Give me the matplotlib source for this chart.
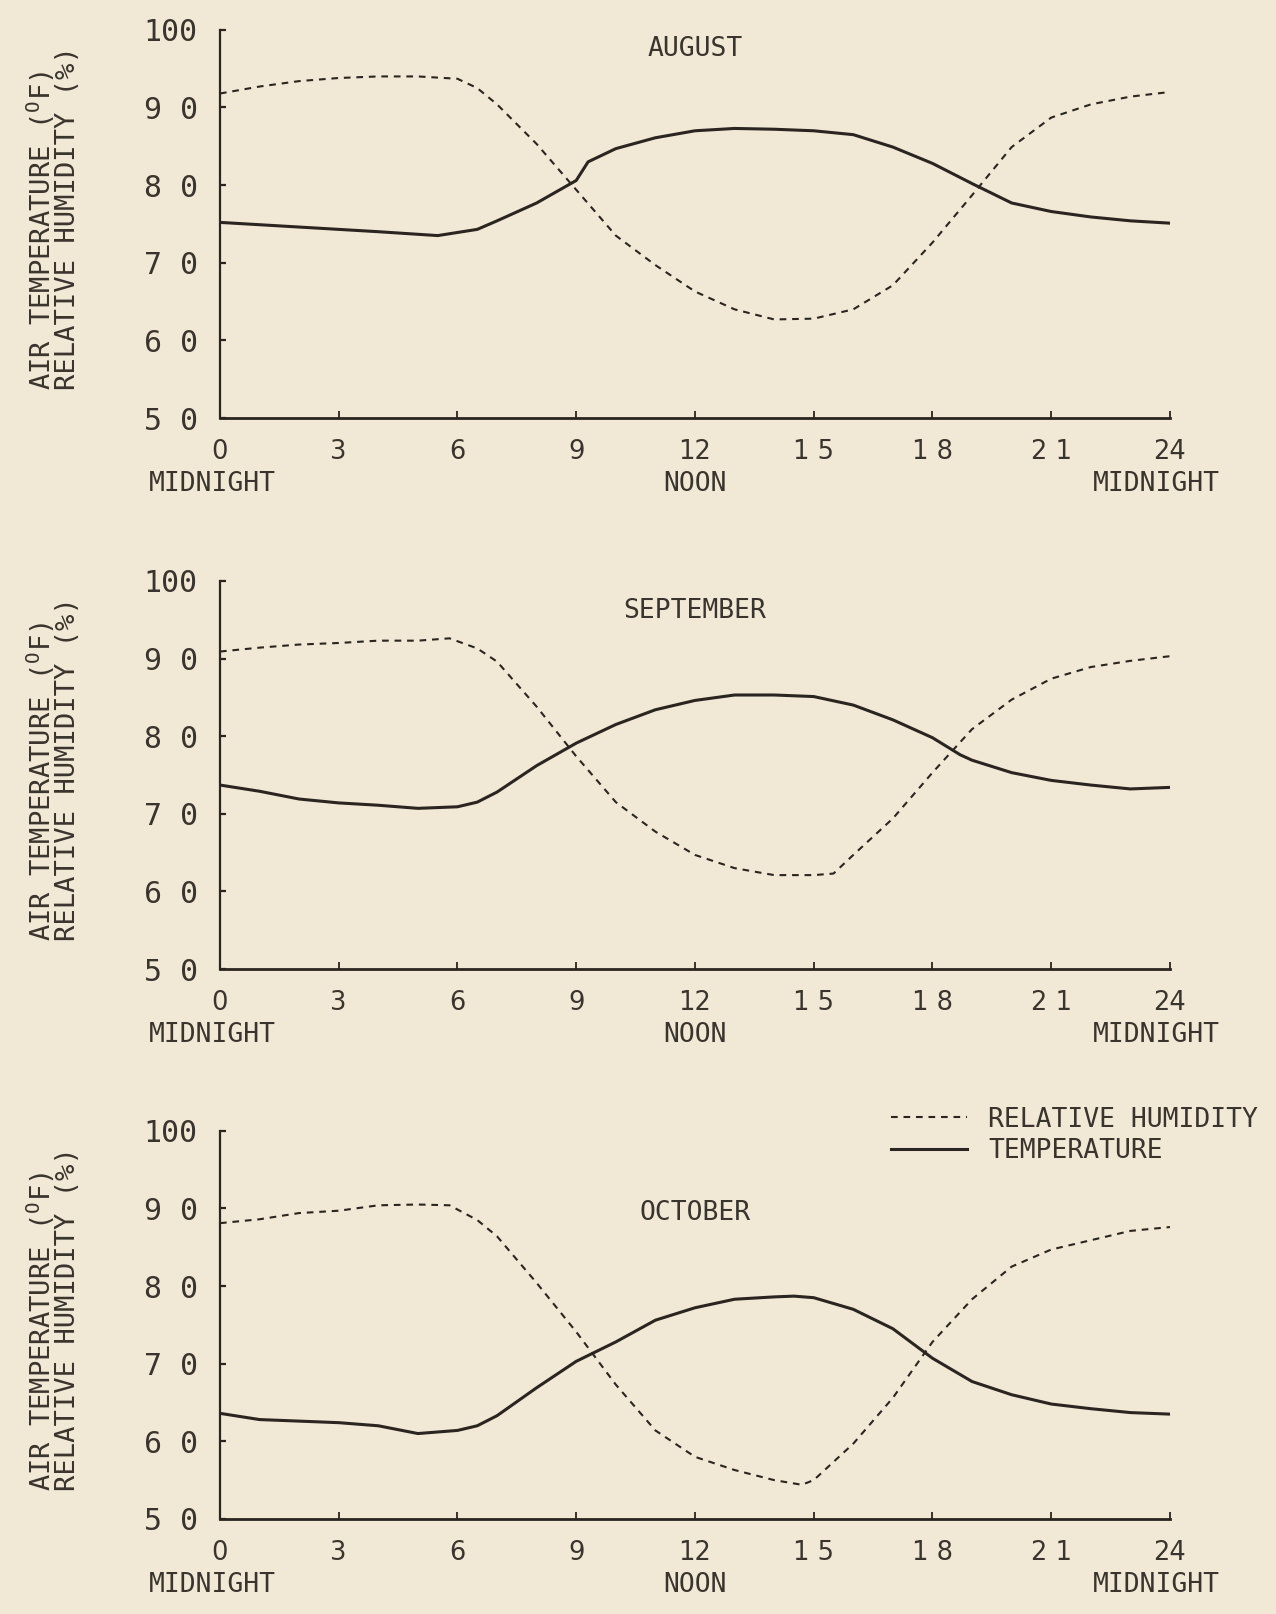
import matplotlib
matplotlib.use("Agg")
import matplotlib.pyplot as plt

# ---------------- data ----------------
months = ["AUGUST", "SEPTEMBER", "OCTOBER"]

aug_temp_h = [0, 2, 4, 5.5, 6.5, 7, 8, 9, 9.3, 10, 11, 12, 13, 14, 15, 16, 17, 18, 19, 20, 21, 22, 23, 24]
aug_temp = [75.2, 74.6, 74.0, 73.5, 74.3, 75.4, 77.7, 80.6, 83.0, 84.7, 86.1, 87.0, 87.3, 87.2, 87.0, 86.5,
            84.9, 82.8, 80.2, 77.7, 76.6, 75.9, 75.4, 75.1]
aug_rh_h = [0, 1, 2, 3, 4, 5, 6, 6.5, 7, 8, 9, 10, 11, 12, 13, 14, 15, 16, 17, 18, 19, 20, 21, 22, 23, 24]
aug_rh = [91.8, 92.7, 93.4, 93.8, 94.0, 94.0, 93.7, 92.5, 90.4, 85.3, 79.4, 73.5, 69.7, 66.3, 64.0, 62.7,
          62.8, 64.0, 67.1, 72.6, 78.7, 84.9, 88.7, 90.4, 91.4, 92.0]

sep_temp_h = [0, 1, 2, 3, 4, 5, 6, 6.5, 7, 8, 9, 10, 11, 12, 13, 14, 15, 16, 17, 18, 18.7, 19, 20, 21, 22, 23, 24]
sep_temp = [73.7, 72.9, 71.9, 71.4, 71.1, 70.7, 70.9, 71.5, 72.8, 76.2, 79.1, 81.5, 83.4, 84.6, 85.3, 85.3,
            85.1, 84.0, 82.1, 79.8, 77.6, 76.9, 75.3, 74.3, 73.7, 73.2, 73.4]
sep_rh_h = [0, 1, 2, 3, 4, 5, 5.8, 6.5, 7, 8, 9, 10, 11, 12, 13, 14, 15, 15.5, 16, 17, 18, 19, 20, 21, 22, 23, 24]
sep_rh = [90.9, 91.4, 91.8, 92.0, 92.3, 92.3, 92.6, 91.3, 89.6, 83.8, 77.4, 71.5, 67.7, 64.7, 63.0, 62.1,
          62.1, 62.3, 64.7, 69.4, 75.3, 80.9, 84.7, 87.4, 88.9, 89.7, 90.3]

oct_temp_h = [0, 1, 2, 3, 4, 5, 6, 6.5, 7, 8, 9, 10, 11, 12, 13, 14, 14.5, 15, 16, 17, 18, 19, 20, 21, 22, 23, 24]
oct_temp = [63.6, 62.8, 62.6, 62.4, 62.0, 61.0, 61.4, 62.0, 63.3, 66.9, 70.3, 72.8, 75.6, 77.2, 78.3, 78.6,
            78.7, 78.5, 77.0, 74.5, 70.7, 67.7, 66.0, 64.8, 64.2, 63.7, 63.5]
oct_rh_h = [0, 1, 2, 3, 4, 5, 5.8, 6.5, 7, 8, 9, 10, 11, 12, 13, 14, 14.7, 15, 16, 17, 18, 19, 20, 21, 22, 23, 24]
oct_rh = [88.1, 88.6, 89.4, 89.7, 90.4, 90.5, 90.4, 88.5, 86.4, 80.4, 74.1, 67.3, 61.4, 58.0, 56.3, 55.0,
          54.4, 55.0, 59.7, 65.6, 72.8, 78.3, 82.5, 84.7, 85.9, 87.1, 87.6]

x_ticks = [0, 3, 6, 9, 12, 15, 18, 21, 24]
x_ticklabels = ["0", "3", "6", "9", "12", "1 5", "1 8", "2 1", "24"]
y_ticks = [50, 60, 70, 80, 90, 100]
y_ticklabels = ["5 0", "6 0", "7 0", "8 0", "9 0", "100"]
title_y = [97.5, 96.1, 89.4]

# ---------------- style ----------------
BG = "#f1e8d6"
INK = "#2a2520"
TXT = "#3a342e"
MONO = ["DejaVu Sans Mono"]
plt.rcParams["mathtext.fontset"] = "custom"
plt.rcParams["mathtext.rm"] = "DejaVu Sans Mono"
plt.rcParams["mathtext.it"] = "DejaVu Sans Mono"

fig = plt.figure(figsize=(12.76, 16.14), dpi=100, facecolor=BG)

series = [
    (aug_temp_h, aug_temp, aug_rh_h, aug_rh),
    (sep_temp_h, sep_temp, sep_rh_h, sep_rh),
    (oct_temp_h, oct_temp, oct_rh_h, oct_rh),
]
bottoms = [0.741, 0.3996, 0.0589]
left, width, height = 0.1724, 0.7445, 0.2405

for i, (th, tv, rh_h, rv) in enumerate(series):
    ax = fig.add_axes([left, bottoms[i], width, height])
    ax.set_facecolor(BG)
    ax.plot(rh_h, rv, color=INK, lw=1.5, linestyle=(0, (3.2, 2.8)), label="RELATIVE HUMIDITY")
    ax.plot(th, tv, color=INK, lw=2.2, label="TEMPERATURE")
    ax.set_xlim(0, 24)
    ax.set_ylim(50, 100)
    for s in ["top", "right"]:
        ax.spines[s].set_visible(False)
    ax.spines["left"].set_linewidth(1.6)
    ax.spines["bottom"].set_linewidth(2.0)
    ax.spines["left"].set_color(INK)
    ax.spines["bottom"].set_color(INK)
    ax.set_xticks(x_ticks)
    ax.set_xticklabels(x_ticklabels)
    ax.set_yticks(y_ticks)
    ax.set_yticklabels(y_ticklabels)
    ax.tick_params(axis="x", direction="in", length=5, width=1.3, colors=INK, pad=15, labelsize=18.5)
    ax.tick_params(axis="y", direction="in", length=4, width=1.6, colors=INK, pad=16, labelsize=21.5)
    for lab in ax.get_xticklabels():
        lab.set_fontfamily(["DejaVu Sans"])
        lab.set_color(TXT)
    for lab in ax.get_yticklabels():
        lab.set_fontfamily(MONO)
        lab.set_color(TXT)
    # second line of x labels
    tr = ax.get_xaxis_transform()
    for xv, txt in [(-0.18, "MIDNIGHT"), (12, "NOON"), (23.65, "MIDNIGHT")]:
        ax.text(xv, -0.17, txt, transform=tr, ha="center", va="center",
                fontsize=19, family=MONO, color=TXT)
    # month title
    ax.text(12, title_y[i], months[i], ha="center", va="center", fontsize=19,
            family=MONO, color=TXT)
    # y label
    ax.text(-0.176, 0.515, "AIR TEMPERATURE ($^{\\mathrm{O}}$F)\nRELATIVE HUMIDITY (%)",
            transform=ax.transAxes, rotation=90, ha="center", va="center",
            fontsize=19.5, family=MONO, color=TXT, linespacing=0.92,
            multialignment="left")
    if i == 2:
        leg = ax.legend(loc="upper left", bbox_to_anchor=(0.706, 1.062), frameon=False,
                        borderpad=0, borderaxespad=0, handlelength=2.9, handletextpad=0.8,
                        labelspacing=0.2, prop={"family": MONO, "size": 19})
        for t in leg.get_texts():
            t.set_color(TXT)

fig.savefig("out.png", dpi=100, facecolor=BG)
